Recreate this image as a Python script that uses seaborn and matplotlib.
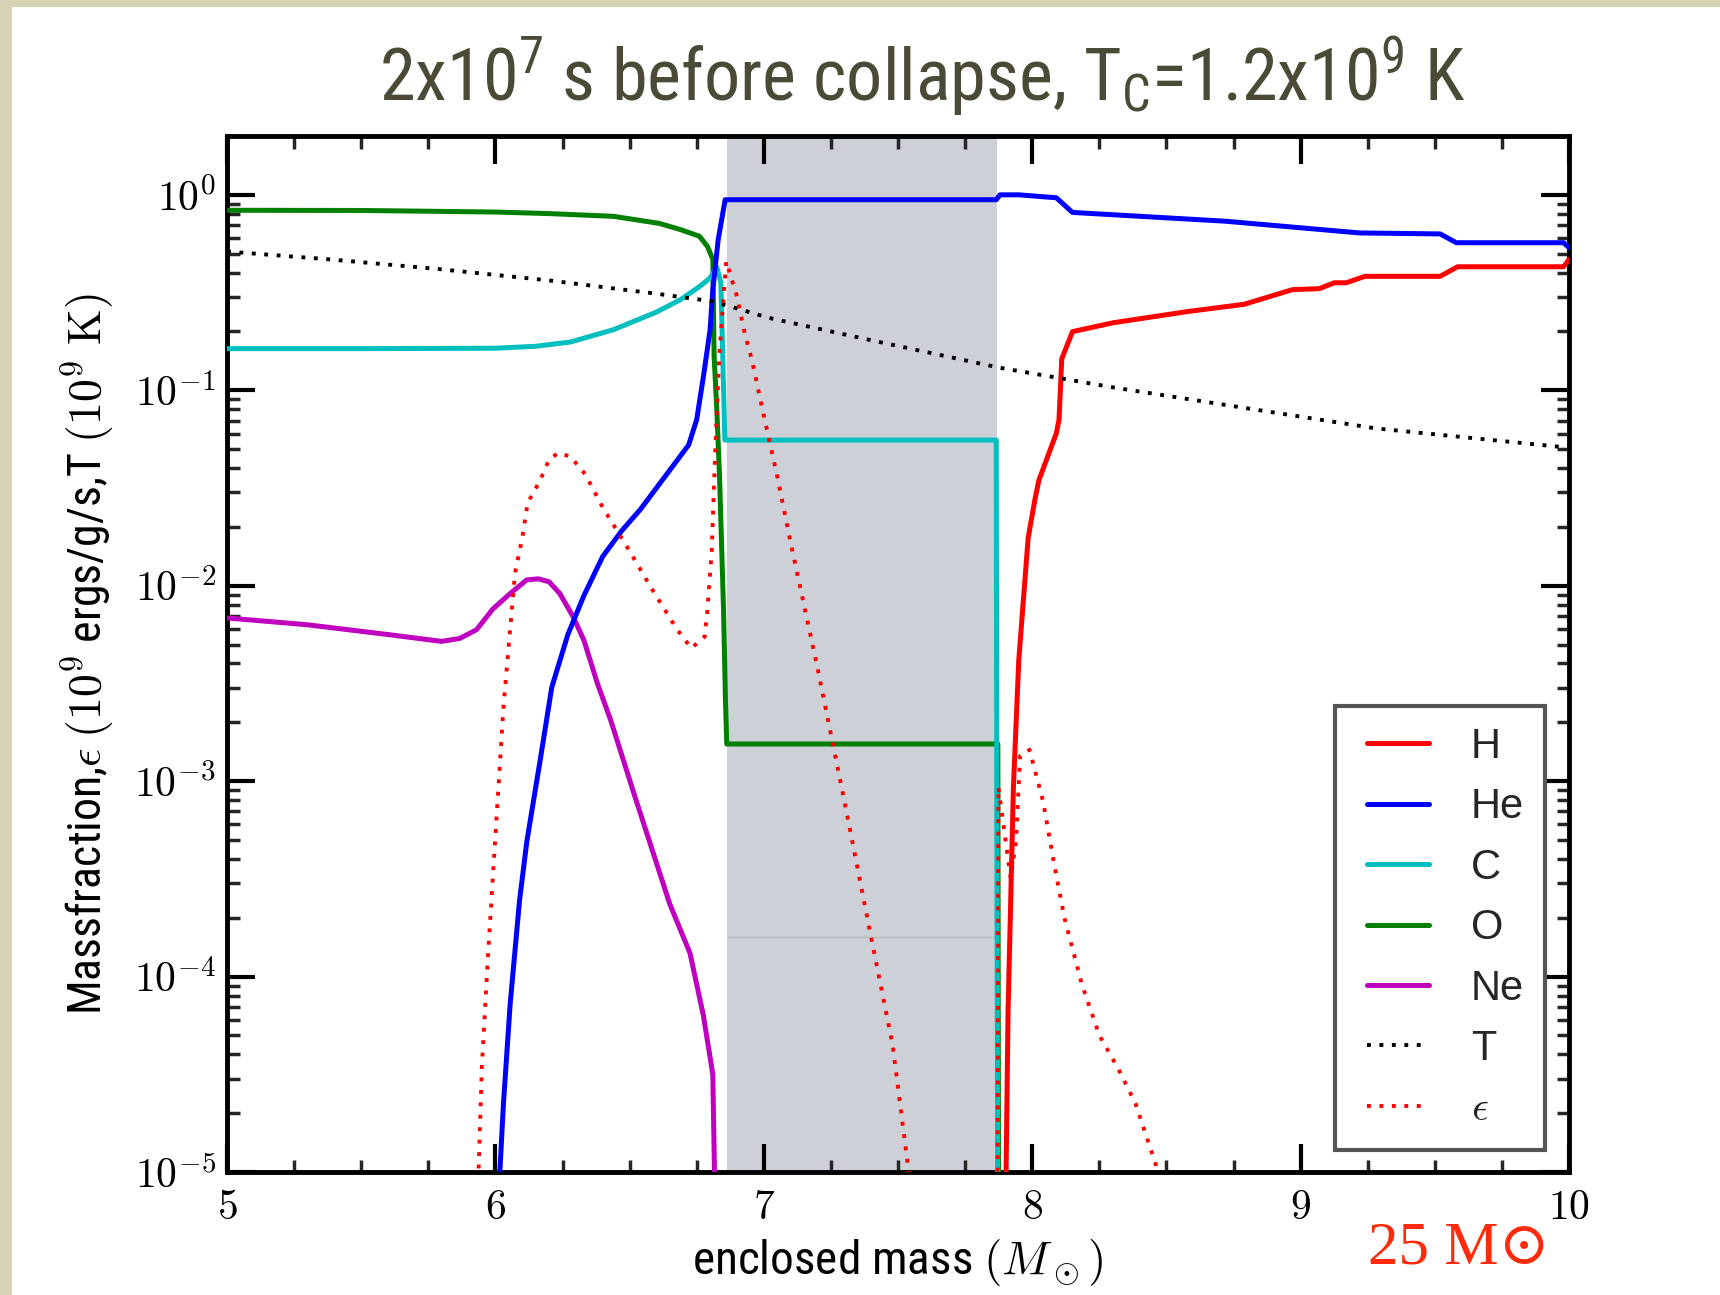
import numpy as np
import pandas as pd
import matplotlib
matplotlib.use("Agg")
import matplotlib.pyplot as plt
import seaborn as sns
from matplotlib import font_manager as fm
from matplotlib.patches import Rectangle
from matplotlib.legend_handler import HandlerLine2D
from matplotlib.ticker import FixedLocator, LogLocator, NullFormatter, FuncFormatter, MultipleLocator

# ---------------- data (log10 of values) ----------------
x_H = [7.900, 7.910, 7.930, 7.950, 7.985, 8.010, 8.025, 8.090, 8.100, 8.110, 8.150, 8.300,
       8.580, 8.790, 8.970, 9.070, 9.125, 9.170, 9.240, 9.520, 9.585, 9.980, 10.0]
lg_H = [-5.3, -4.18, -3.03, -2.38, -1.755, -1.56, -1.46, -1.22, -1.15, -0.84, -0.70, -0.655,
        -0.597, -0.56, -0.485, -0.48, -0.45, -0.45, -0.417, -0.417, -0.368, -0.368, -0.33]

x_He = [6.005, 6.030, 6.055, 6.090, 6.117, 6.166, 6.210, 6.270, 6.330, 6.400, 6.470, 6.540,
        6.600, 6.660, 6.720, 6.750, 6.775, 6.800, 6.810, 6.830, 6.856, 7.866, 7.880, 7.950,
        8.090, 8.150, 8.720, 9.220, 9.520, 9.580, 9.980, 10.0]
lg_He = [-5.3, -4.65, -4.14, -3.61, -3.31, -2.90, -2.52, -2.25, -2.05, -1.85, -1.72, -1.61,
         -1.50, -1.39, -1.28, -1.15, -0.93, -0.69, -0.485, -0.23, -0.025, -0.025, 0.0, 0.0,
         -0.015, -0.09, -0.135, -0.195, -0.20, -0.245, -0.245, -0.27]

x_C = [5.0, 5.5, 6.0, 6.15, 6.28, 6.44, 6.60, 6.69, 6.76, 6.80, 6.825, 6.840, 6.855,
       7.866, 7.868, 7.872]
lg_C = [-0.787, -0.787, -0.785, -0.775, -0.753, -0.69, -0.60, -0.536, -0.47, -0.425, -0.37,
        -0.45, -1.255, -1.255, -3.0, -5.5]

x_O = [5.0, 5.5, 6.0, 6.2, 6.44, 6.61, 6.69, 6.76, 6.79, 6.81, 6.815, 6.825, 6.835, 6.850,
       6.857, 6.862, 7.872, 7.875]
lg_O = [-0.079, -0.080, -0.088, -0.096, -0.11, -0.146, -0.178, -0.212, -0.264, -0.33, -0.83,
        -1.10, -1.44, -2.12, -2.58, -2.81, -2.81, -5.5]

x_Ne = [5.0, 5.3, 5.6, 5.8, 5.867, 5.93, 5.99, 6.055, 6.117, 6.16, 6.20, 6.24, 6.29, 6.33,
        6.38, 6.43, 6.52, 6.65, 6.725, 6.775, 6.81, 6.82]
lg_Ne = [-2.165, -2.20, -2.25, -2.285, -2.27, -2.225, -2.12, -2.04, -1.97, -1.965, -1.98,
         -2.04, -2.16, -2.28, -2.50, -2.69, -3.08, -3.63, -3.88, -4.20, -4.50, -5.3]

x_T = [5.0, 5.38, 5.79, 6.2, 6.6, 6.81, 7.02, 7.42, 7.88, 8.30, 8.72, 9.28, 10.0]
lg_T = [-0.29, -0.33, -0.38, -0.438, -0.506, -0.545, -0.63, -0.75, -0.885, -0.985, -1.075,
        -1.195, -1.294]

x_eps = [5.93, 5.95, 5.973, 6.005, 6.03, 6.05, 6.073, 6.10, 6.12, 6.165, 6.20, 6.235, 6.28,
         6.335, 6.40, 6.49, 6.58, 6.675, 6.73, 6.78, 6.79, 6.806, 6.82, 6.835, 6.86, 6.90,
         6.93, 6.955, 7.0, 7.05, 7.1, 7.2, 7.3, 7.4, 7.48, 7.54, 7.60, 7.87, 7.874, 7.92,
         7.94, 7.955, 7.99, 8.04, 8.08, 8.12, 8.185, 8.25, 8.32, 8.385, 8.46, 8.5]
lg_eps = [-5.3, -4.45, -3.88, -3.17, -2.62, -2.30, -1.935, -1.756, -1.576, -1.466, -1.355,
          -1.32, -1.34, -1.43, -1.60, -1.80, -2.01, -2.22, -2.32, -2.26, -2.12, -1.82, -1.27,
          -0.80, -0.34, -0.52, -0.715, -0.84, -1.13, -1.44, -1.78, -2.42, -3.1, -3.8, -4.35,
          -5.0, -6.0, -6.0, -3.03, -3.5, -3.3, -2.87, -2.84, -3.10, -3.41, -3.70, -4.04,
          -4.30, -4.47, -4.65, -4.96, -5.3]

shade_x = [6.862, 7.870]
shade_line_lg = -3.80
labels = ["H", "He", "C", "O", "Ne", "T", r"$\epsilon$"]
x_ticks = [5, 6, 7, 8, 9, 10]
y_ticks = [1e-5, 1e-4, 1e-3, 1e-2, 1e-1, 1e0]

# ---------------- fonts ----------------
names = {f.name for f in fm.fontManager.ttflist}
narrow_family, narrow_stretch = None, "normal"
for cand in ["Liberation Sans Narrow", "Arial Narrow", "Roboto Condensed", "Open Sans Condensed",
             "Noto Sans Condensed", "DejaVu Sans Condensed", "Nimbus Sans Narrow"]:
    if cand in names:
        narrow_family = cand
        break
if narrow_family is None:
    others = sorted(n for n in names if ("Narrow" in n or "Condensed" in n)
                    and "Serif" not in n and "Mono" not in n and "CJK" not in n)
    if others:
        narrow_family = others[0]
if narrow_family is None:
    cond = [f for f in fm.fontManager.ttflist
            if str(f.stretch) in ("condensed", "semi-condensed") and "Sans" in f.name
            and "Mono" not in f.name and "CJK" not in f.name and f.style == "normal"]
    if cond:
        narrow_family, narrow_stretch = cond[0].name, str(cond[0].stretch)
if narrow_family is None:
    narrow_family = "Liberation Sans"

sns.set_theme(style="ticks")
plt.rcParams["font.family"] = [narrow_family, "Liberation Sans", "DejaVu Sans"]
plt.rcParams["font.stretch"] = narrow_stretch
plt.rcParams["mathtext.fontset"] = "cm"
spec = narrow_family if narrow_stretch == "normal" else f"{narrow_family}:stretch={narrow_stretch}"
for k in ["mathtext.rm", "mathtext.it", "mathtext.bf", "mathtext.sf"]:
    plt.rcParams[k] = spec

W, H = 1720, 1295
fig = plt.figure(figsize=(W / 100, H / 100), dpi=100)
fig.patch.set_facecolor("#d6d3b6")
fig.add_artist(Rectangle((12 / W, 0), 1 - 12 / W, 1 - 7 / H, transform=fig.transFigure,
                         facecolor="white", edgecolor="none", zorder=-10))

ax = fig.add_axes([227 / W, 1 - 1172 / H, (1569 - 227) / W, (1172 - 136) / H])
ax.set_facecolor("white")

ax.axvspan(shade_x[0], shade_x[1], color="#cdd0d6", lw=0, zorder=0)
ax.hlines(10 ** shade_line_lg, shade_x[0], shade_x[1], color="#b4b7bc", lw=0.8, zorder=0.5)

solid_lw = 3.6
dot_ls = (0, (1, 2.2))
series = [
    (x_O, lg_O, "#008000", "-", solid_lw, "O"),
    (x_C, lg_C, "#00bfbf", "-", solid_lw, "C"),
    (x_Ne, lg_Ne, "#bf00bf", "-", solid_lw, "Ne"),
    (x_He, lg_He, "#0000ff", "-", solid_lw, "He"),
    (x_H, lg_H, "#ff0000", "-", solid_lw, "H"),
    (x_T, lg_T, "#000000", dot_ls, 2.8, "T"),
    (x_eps, lg_eps, "#ff0000", dot_ls, 2.8, r"$\epsilon$"),
]
handles = {}
for xs, lgs, col, ls, lw, lab in series:
    df = pd.DataFrame({"x": xs, "y": np.power(10.0, lgs)})
    sns.lineplot(data=df, x="x", y="y", ax=ax, color=col, lw=lw, sort=False,
                 estimator=None, legend=False, zorder=3)
    line = ax.get_lines()[-1]
    line.set_linestyle(ls)
    line.set_label(lab)
    handles[lab] = line

ax.set_yscale("log")
ax.set_xlim(5, 10)
ax.set_ylim(1e-5, 2.0)

ax.xaxis.set_major_locator(FixedLocator(x_ticks))
ax.xaxis.set_minor_locator(MultipleLocator(0.25))
ax.xaxis.set_major_formatter(FuncFormatter(lambda v, p: f"${v:g}$"))
ax.yaxis.set_major_locator(FixedLocator(y_ticks))
ax.yaxis.set_minor_locator(LogLocator(base=10, subs=np.arange(2, 10)))
ax.yaxis.set_minor_formatter(NullFormatter())
ax.yaxis.set_major_formatter(FuncFormatter(lambda v, p: f"$10^{{{int(round(np.log10(v)))}}}$"))

ax.tick_params(which="major", direction="in", length=20, width=3, top=True, right=True,
               labelsize=30, colors="black")
ax.tick_params(axis="x", which="major", pad=11)
ax.tick_params(axis="y", which="major", pad=8)
ax.tick_params(which="minor", direction="in", length=9, width=2.5, top=True, right=True)
for s in ax.spines.values():
    s.set_linewidth(3.5)
    s.set_color("black")
    s.set_visible(True)
ax.grid(False)

ax.set_xlabel(r"enclosed mass $(M_\odot)$", fontsize=34, labelpad=6, color="black")
ax.set_ylabel(r"Massfraction,$\epsilon$ $(10^9$ ergs/g/s,T $(10^9\ \mathrm{K})$",
              fontsize=33, labelpad=12, color="black")

leg = ax.legend([handles[l] for l in labels], labels, loc="lower right",
                bbox_to_anchor=(0.982, 0.021), borderaxespad=0, frameon=True, fancybox=False,
                edgecolor="#555555", framealpha=1, facecolor="white",
                prop={"family": ["Liberation Sans", "DejaVu Sans"], "size": 30,
                      "stretch": "normal"},
                handlelength=1.75, handletextpad=1.0, labelspacing=0.49, borderpad=0.5,
                handler_map={matplotlib.lines.Line2D: HandlerLine2D(xpad=0.25)})
leg.get_frame().set_linewidth(3)

fig.text(0.536, 0.941, r"2x10$^\mathrm{7}$ s before collapse, T$_\mathrm{C}$=1.2x10$^\mathrm{9}$ K",
         ha="center", va="center", fontsize=52, color="#4b4a36", math_fontfamily="custom")
fig.text(0.848, 0.036, "25 M\u2299", ha="center", va="center", fontsize=44, color="#ff2a0a",
         family=["Liberation Serif", "DejaVu Serif"], stretch="normal")

fig.savefig("out.png", dpi=100, facecolor=fig.get_facecolor())
